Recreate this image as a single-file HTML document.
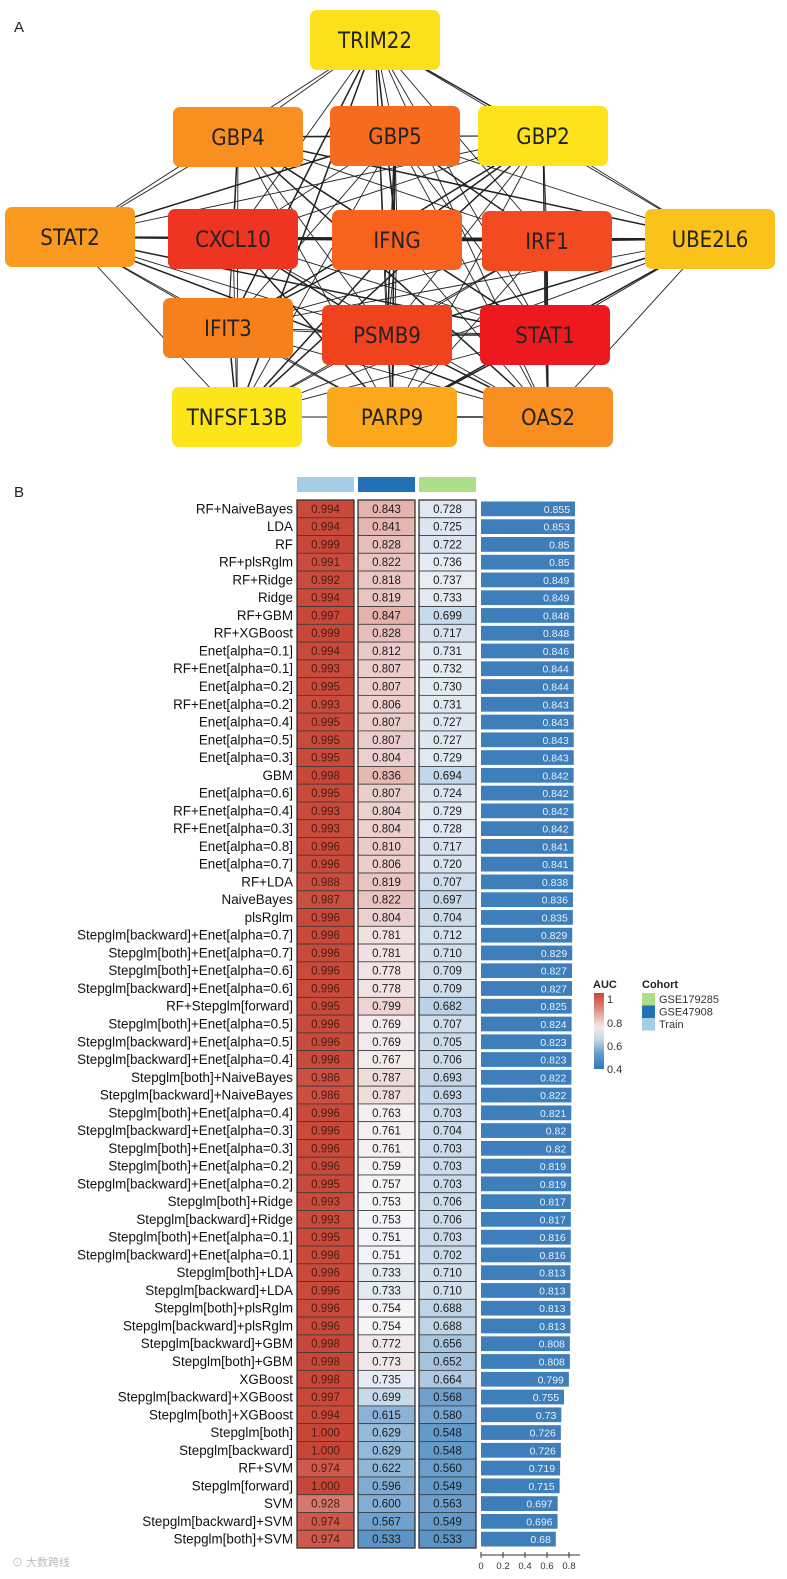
<!DOCTYPE html>
<html><head><meta charset="utf-8"><style>
html,body{margin:0;padding:0;background:#fff}
body{width:787px;height:1574px;overflow:hidden;font-family:"Liberation Sans",sans-serif}
</style></head><body>
<svg id="root" width="787" height="1574" viewBox="0 0 787 1574" xmlns="http://www.w3.org/2000/svg">
<text x="14" y="32" font-size="15" fill="#222">A</text>
<text x="14" y="497" font-size="15" fill="#222">B</text>
<g id="net"></g>
<g id="heat"></g>
<g id="legend"></g>
<text x="12" y="1566" font-size="11" fill="#bbb" font-family="'Liberation Sans','Noto Sans CJK SC',sans-serif">⊙ 大数跨线</text>
</svg>
<script>
const NS="http://www.w3.org/2000/svg";
function mk(tag,attrs,parent){const e=document.createElementNS(NS,tag);for(const k in attrs)e.setAttribute(k,attrs[k]);parent.appendChild(e);return e;}

// ---------- Network ----------
const geneNames=["TRIM22","GBP4","GBP5","GBP2","STAT2","CXCL10","IFNG","IRF1","UBE2L6","IFIT3","PSMB9","STAT1","TNFSF13B","PARP9","OAS2"];
const geneColors=["#fde01c","#f98f20","#f66b20","#fde21c","#fa9a1e","#ee3522","#f7621f","#f24a21","#fbc21b","#f7801e","#f0421f","#ec1a1f","#fde51c","#fba81c","#f98f20"];
const geneBoxes=[[310,10],[173,107],[330,106],[478,106],[5,207],[168,209],[332,210],[482,211],[645,209],[163,298],[322,305],[480,305],[172,387],[327,387],[483,387]];
const net=document.getElementById('net');
const eg=mk('g',{},net);


const W=130,H=60;
for(let i=0;i<geneNames.length;i++)for(let j=i+1;j<geneNames.length;j++){
  const a=geneBoxes[i],b=geneBoxes[j];
  const l=mk('line',{x1:a[0]+W/2,y1:a[1]+H/2,x2:b[0]+W/2,y2:b[1]+H/2,stroke:"#222","stroke-width":((i+j)%3==0)?1.5:0.9},eg);
  
  
}
for(let i=0;i<geneNames.length;i++){
  const g=mk('g',{},net);
  
  
  mk('rect',{x:geneBoxes[i][0],y:geneBoxes[i][1],width:W,height:H,rx:7,fill:geneColors[i]},g);
  const t=mk('text',{x:geneBoxes[i][0]+W/2,y:geneBoxes[i][1]+H/2+8,"text-anchor":"middle","font-size":22,fill:"#222","font-family":"'DejaVu Sans Condensed','Liberation Sans',sans-serif"},g);
  t.textContent=geneNames[i];
}

// ---------- Heatmap ----------
const models=["RF+NaiveBayes","LDA","RF","RF+plsRglm","RF+Ridge","Ridge","RF+GBM","RF+XGBoost","Enet[alpha=0.1]","RF+Enet[alpha=0.1]","Enet[alpha=0.2]","RF+Enet[alpha=0.2]","Enet[alpha=0.4]","Enet[alpha=0.5]","Enet[alpha=0.3]","GBM","Enet[alpha=0.6]","RF+Enet[alpha=0.4]","RF+Enet[alpha=0.3]","Enet[alpha=0.8]","Enet[alpha=0.7]","RF+LDA","NaiveBayes","plsRglm","Stepglm[backward]+Enet[alpha=0.7]","Stepglm[both]+Enet[alpha=0.7]","Stepglm[both]+Enet[alpha=0.6]","Stepglm[backward]+Enet[alpha=0.6]","RF+Stepglm[forward]","Stepglm[both]+Enet[alpha=0.5]","Stepglm[backward]+Enet[alpha=0.5]","Stepglm[backward]+Enet[alpha=0.4]","Stepglm[both]+NaiveBayes","Stepglm[backward]+NaiveBayes","Stepglm[both]+Enet[alpha=0.4]","Stepglm[backward]+Enet[alpha=0.3]","Stepglm[both]+Enet[alpha=0.3]","Stepglm[both]+Enet[alpha=0.2]","Stepglm[backward]+Enet[alpha=0.2]","Stepglm[both]+Ridge","Stepglm[backward]+Ridge","Stepglm[both]+Enet[alpha=0.1]","Stepglm[backward]+Enet[alpha=0.1]","Stepglm[both]+LDA","Stepglm[backward]+LDA","Stepglm[both]+plsRglm","Stepglm[backward]+plsRglm","Stepglm[backward]+GBM","Stepglm[both]+GBM","XGBoost","Stepglm[backward]+XGBoost","Stepglm[both]+XGBoost","Stepglm[both]","Stepglm[backward]","RF+SVM","Stepglm[forward]","SVM","Stepglm[backward]+SVM","Stepglm[both]+SVM"];
const trainAUC=[0.994,0.994,0.999,0.991,0.992,0.994,0.997,0.999,0.994,0.993,0.995,0.993,0.995,0.995,0.995,0.998,0.995,0.993,0.993,0.996,0.996,0.988,0.987,0.996,0.996,0.996,0.996,0.996,0.995,0.996,0.996,0.996,0.986,0.986,0.996,0.996,0.996,0.996,0.995,0.993,0.993,0.995,0.996,0.996,0.996,0.996,0.996,0.998,0.998,0.998,0.997,0.994,1.000,1.000,0.974,1.000,0.928,0.974,0.974];
const gse47908AUC=[0.843,0.841,0.828,0.822,0.818,0.819,0.847,0.828,0.812,0.807,0.807,0.806,0.807,0.807,0.804,0.836,0.807,0.804,0.804,0.810,0.806,0.819,0.822,0.804,0.781,0.781,0.778,0.778,0.799,0.769,0.769,0.767,0.787,0.787,0.763,0.761,0.761,0.759,0.757,0.753,0.753,0.751,0.751,0.733,0.733,0.754,0.754,0.772,0.773,0.735,0.699,0.615,0.629,0.629,0.622,0.596,0.600,0.567,0.533];
const gse179285AUC=[0.728,0.725,0.722,0.736,0.737,0.733,0.699,0.717,0.731,0.732,0.730,0.731,0.727,0.727,0.729,0.694,0.724,0.729,0.728,0.717,0.720,0.707,0.697,0.704,0.712,0.710,0.709,0.709,0.682,0.707,0.705,0.706,0.693,0.693,0.703,0.704,0.703,0.703,0.703,0.706,0.706,0.703,0.702,0.710,0.710,0.688,0.688,0.656,0.652,0.664,0.568,0.580,0.548,0.548,0.560,0.549,0.563,0.549,0.533];
const meanAUC=[0.855,0.853,0.85,0.85,0.849,0.849,0.848,0.848,0.846,0.844,0.844,0.843,0.843,0.843,0.843,0.842,0.842,0.842,0.842,0.841,0.841,0.838,0.836,0.835,0.829,0.829,0.827,0.827,0.825,0.824,0.823,0.823,0.822,0.822,0.821,0.82,0.82,0.819,0.819,0.817,0.817,0.816,0.816,0.813,0.813,0.813,0.813,0.808,0.808,0.799,0.755,0.73,0.726,0.726,0.719,0.715,0.697,0.696,0.68];
const axisTicks=[0,0.2,0.4,0.6,0.8];

const heat=document.getElementById('heat');
const n=models.length;
const top0=500,bottom0=1548;
const rowH=(bottom0-top0)/n;
const yRow=i=>top0+i*rowH;
const colX=[297,358,419];const colW=57;
const barX0=481,barScale=110;
const xBar=v=>barX0+v*barScale;

function lerp(a,b,t){return a.map((v,k)=>Math.round(v+(b[k]-v)*t));}
function aucColor(v){
  const blue=[45,120,185],white=[246,246,248],red=[200,70,55];
  let c;
  if(v<0.755){const t=Math.max(0,(v-0.4)/(0.755-0.4));c=lerp(blue,white,Math.pow(t,1.5));}
  else{const t=Math.min(1,(v-0.755)/(1-0.755));c=lerp(white,red,Math.pow(t,0.95));}
  return `rgb(${c[0]},${c[1]},${c[2]})`;
}
const cohortColors=["#a6cde6","#2370b4","#addf8a"];
const cohortNames=["train","gse47908","gse179285"];
for(let c=0;c<3;c++){
  const r=mk('rect',{x:colX[c],y:477,width:colW,height:15,fill:cohortColors[c]},heat);
  
  
}
const series=[trainAUC,gse47908AUC,gse179285AUC];
for(let i=0;i<n;i++){
  const y=yRow(i);
  const lab=mk('text',{x:293,y:y+rowH/2+4.5,"text-anchor":"end","font-size":13.4,fill:"#111"},heat);
  lab.textContent=models[i];
  
  
  for(let c=0;c<3;c++){
    const v=series[c][i];
    const r=mk('rect',{x:colX[c],y:y,width:colW,height:rowH,fill:aucColor(v),stroke:"#3a3a3a","stroke-width":0.8},heat);
    
    
    const t=mk('text',{x:colX[c]+colW/2,y:y+rowH/2+4,"text-anchor":"middle","font-size":11.5,fill:c==0?"#4a1c14":"#1c1c1c"},heat);
    t.textContent=v.toFixed(3);
  }
  const b=mk('rect',{x:barX0,y:y+1.5,width:xBar(meanAUC[i])-barX0,height:rowH-3,fill:"#3d7ebb"},heat);
  
  
  const bt=mk('text',{x:xBar(meanAUC[i])-5,y:y+rowH/2+4,"text-anchor":"end","font-size":10.5,fill:"#e8f0f8"},heat);
  bt.textContent=String(meanAUC[i]);
}
for(let c=0;c<3;c++){
  const o=mk('rect',{x:colX[c],y:top0,width:colW,height:bottom0-top0,fill:"none",stroke:"#333","stroke-width":1.3},heat);
  
  
}
const ax=mk('g',{},heat);


mk('line',{x1:xBar(0),y1:1555,x2:xBar(0.9),y2:1555,stroke:"#333","stroke-width":1},ax);
axisTicks.forEach(v=>{
  mk('line',{x1:xBar(v),y1:1552,x2:xBar(v),y2:1558,stroke:"#333","stroke-width":1},ax);
  const t=mk('text',{x:xBar(v),y:1569,"text-anchor":"middle","font-size":9.5,fill:"#333"},ax);
  t.textContent=String(v);
});

// ---------- Legend ----------
const lg=document.getElementById('legend');
const defs=mk('defs',{},lg);
const grad=mk('linearGradient',{id:"aucg",x1:0,y1:0,x2:0,y2:1},defs);
[[0,1],[0.15,0.93],[0.3,0.85],[0.45,0.77],[0.6,0.7],[0.8,0.55],[1,0.4]].forEach(([o,v])=>mk('stop',{offset:o,"stop-color":aucColor(v)},grad));
const at=mk('text',{x:593,y:988,"font-size":11,"font-weight":"bold",fill:"#222"},lg);at.textContent="AUC";
const gb=mk('rect',{x:594,y:993,width:10,height:76,fill:"url(#aucg)"},lg);


[["1",999],["0.8",1023],["0.6",1046],["0.4",1069]].forEach(([s,y])=>{const t=mk('text',{x:607,y:y+4,"font-size":11,fill:"#333"},lg);t.textContent=s;});
const ct=mk('text',{x:642,y:988,"font-size":11,"font-weight":"bold",fill:"#222"},lg);ct.textContent="Cohort";
[["GSE179285","#addf8a"],["GSE47908","#2370b4"],["Train","#a6cde6"]].forEach(([s,col],k)=>{
  const g=mk('g',{},lg);
  
  
  mk('rect',{x:642,y:993+k*12.5,width:13,height:12.5,fill:col},g);
  const t=mk('text',{x:659,y:1003+k*12.5,"font-size":11,fill:"#333"},g);t.textContent=s;
});
</script>
</body></html>
